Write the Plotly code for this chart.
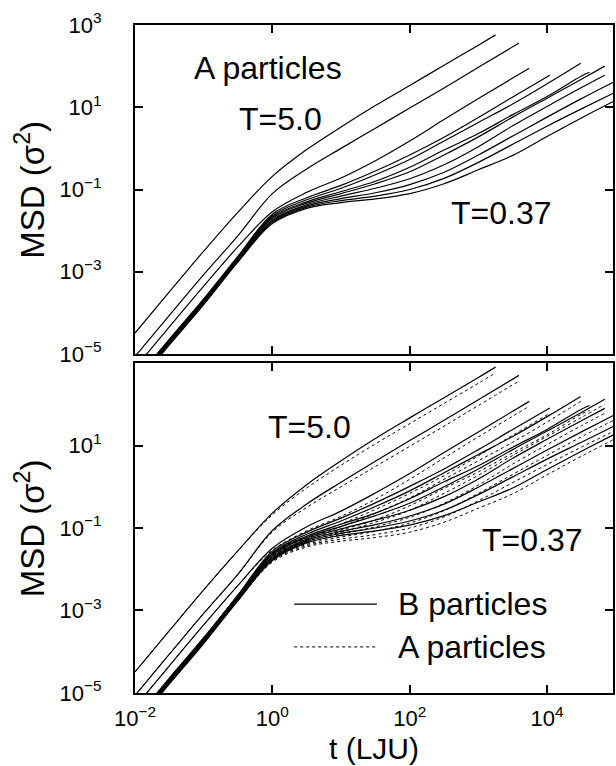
import numpy as np
import plotly.graph_objects as go

# log10(t) sampling grid shared by all curves; each curve uses the leading
# part of it and then its own final time.
LOG_T_GRID = [-2, -1.5, -1, -0.5, 0, 0.5, 1, 1.5, 2, 2.5, 3, 3.5, 4, 4.5, 5]

# Final log10(t) of each run, from the hottest (T=5.0) to the coldest (T=0.37)
LOG_T_END = [3.25, 3.59, 3.74, 4.04, 4.49, 4.62, 4.84, 4.84, 5.0, 5.0, 5.0]

# log10 MSD of the A particles
A1 = [-4.49, -3.49, -2.50, -1.55, -0.68, -0.03, 0.52, 1.04, 1.53, 2.02, 2.51, 2.76]
A2 = [-5.06, -4.06, -3.07, -2.12, -1.10, -0.50, 0.00, 0.49, 0.98, 1.47, 1.97, 2.56]
A3 = [-5.34, -4.34, -3.35, -2.39, -1.54, -1.07, -0.72, -0.30, 0.18, 0.70, 1.21, 1.71, 1.95]
A4 = [-5.64, -4.64, -3.66, -2.62, -1.60, -1.20, -0.90, -0.55, -0.16, 0.27, 0.75, 1.25, 1.78]
A5 = [-5.66, -4.66, -3.68, -2.64, -1.64, -1.25, -0.97, -0.64, -0.27, 0.18, 0.63, 1.08, 1.57, 2.07]
A6 = [-5.68, -4.68, -3.70, -2.66, -1.67, -1.30, -1.05, -0.80, -0.46, -0.04, 0.36, 0.82, 1.26, 1.76, 1.85]
A7 = [-5.70, -4.70, -3.72, -2.68, -1.70, -1.33, -1.10, -0.86, -0.57, -0.16, 0.28, 0.76, 1.22, 1.68, 2.00]
A8 = [-5.72, -4.72, -3.74, -2.70, -1.74, -1.37, -1.16, -0.97, -0.74, -0.40, 0.04, 0.55, 1.02, 1.48, 1.78]
A9 = [-5.74, -4.74, -3.76, -2.72, -1.77, -1.40, -1.22, -1.08, -0.88, -0.58, -0.16, 0.30, 0.76, 1.21, 1.64]
A10 = [-5.76, -4.76, -3.78, -2.74, -1.80, -1.43, -1.27, -1.16, -1.00, -0.73, -0.34, 0.10, 0.54, 0.96, 1.37]
A11 = [-5.78, -4.78, -3.80, -2.76, -1.83, -1.46, -1.32, -1.23, -1.10, -0.86, -0.52, -0.17, 0.29, 0.74, 1.17]

# log10 MSD of the B particles
B1 = [-4.49, -3.49, -2.50, -1.55, -0.64, 0.05, 0.63, 1.17, 1.67, 2.16, 2.65, 2.90]
B2 = [-5.06, -4.06, -3.07, -2.12, -1.06, -0.42, 0.11, 0.62, 1.12, 1.61, 2.11, 2.70]
B3 = [-5.34, -4.34, -3.35, -2.39, -1.49, -0.97, -0.59, -0.15, 0.32, 0.83, 1.33, 1.83, 2.07]
B4 = [-5.64, -4.64, -3.66, -2.62, -1.56, -1.10, -0.76, -0.39, 0.01, 0.43, 0.90, 1.39, 1.91]
B5 = [-5.66, -4.66, -3.68, -2.64, -1.60, -1.15, -0.83, -0.48, -0.10, 0.34, 0.78, 1.22, 1.70, 2.19]
B6 = [-5.68, -4.68, -3.70, -2.66, -1.63, -1.20, -0.91, -0.64, -0.29, 0.12, 0.51, 0.96, 1.39, 1.88, 1.97]
B7 = [-5.70, -4.70, -3.72, -2.68, -1.66, -1.23, -0.96, -0.70, -0.40, 0.00, 0.43, 0.90, 1.35, 1.80, 2.12]
B8 = [-5.72, -4.72, -3.74, -2.70, -1.70, -1.27, -1.02, -0.81, -0.57, -0.24, 0.19, 0.69, 1.15, 1.60, 1.90]
B9 = [-5.74, -4.74, -3.76, -2.72, -1.73, -1.30, -1.08, -0.92, -0.71, -0.42, -0.01, 0.44, 0.89, 1.33, 1.76]
B10 = [-5.76, -4.76, -3.78, -2.74, -1.76, -1.33, -1.13, -1.00, -0.83, -0.57, -0.19, 0.24, 0.67, 1.08, 1.49]
B11 = [-5.78, -4.78, -3.80, -2.76, -1.79, -1.36, -1.18, -1.07, -0.93, -0.70, -0.37, -0.03, 0.42, 0.86, 1.29]

A_CURVES = [A1, A2, A3, A4, A5, A6, A7, A8, A9, A10, A11]
B_CURVES = [B1, B2, B3, B4, B5, B6, B7, B8, B9, B10, B11]

X_TICKS = [1e-2, 1e0, 1e2, 1e4]
X_TICK_TEXT = ["10<sup>−2</sup>", "10<sup>0</sup>", "10<sup>2</sup>", "10<sup>4</sup>"]
Y_TICKS_TOP = [1e-5, 1e-3, 1e-1, 1e1, 1e3]
Y_TICK_TEXT_TOP = ["10<sup>−5</sup>", "10<sup>−3</sup>", "10<sup>−1</sup>", "10<sup>1</sup>", "10<sup>3</sup>"]
Y_TICKS_BOT = [1e-5, 1e-3, 1e-1, 1e1]
Y_TICK_TEXT_BOT = ["10<sup>−5</sup>", "10<sup>−3</sup>", "10<sup>−1</sup>", "10<sup>1</sup>"]

FONT = "Liberation Sans, Arial, Helvetica, sans-serif"


def curve_xy(vals, t_end):
    lt = LOG_T_GRID[:len(vals) - 1] + [t_end]
    return 10.0 ** np.array(lt), 10.0 ** np.array(vals)


fig = go.Figure()

line_solid = dict(color="black", width=1.2, shape="spline", smoothing=1.0)
line_dot = dict(color="black", width=1.0, dash="dot", shape="spline", smoothing=1.0)

# top panel: A particles
for vals, te in zip(A_CURVES, LOG_T_END):
    t, m = curve_xy(vals, te)
    fig.add_trace(go.Scatter(x=t, y=m, mode="lines", line=line_solid,
                             xaxis="x", yaxis="y", showlegend=False, hoverinfo="skip"))

# bottom panel: A particles dotted, B particles solid
for vals, te in zip(A_CURVES, LOG_T_END):
    t, m = curve_xy(vals, te)
    fig.add_trace(go.Scatter(x=t, y=m, mode="lines", line=line_dot,
                             xaxis="x2", yaxis="y2", showlegend=False, hoverinfo="skip"))
for vals, te in zip(B_CURVES, LOG_T_END):
    t, m = curve_xy(vals, te)
    fig.add_trace(go.Scatter(x=t, y=m, mode="lines", line=line_solid,
                             xaxis="x2", yaxis="y2", showlegend=False, hoverinfo="skip"))

X_RANGE = [-2, 4.96]
Y_RANGE = [-5, 3]
TICK_FONT = dict(family=FONT, size=22, color="black")

common_axis = dict(type="log", showline=True, linewidth=2, linecolor="black",
                   mirror="ticks", ticks="inside", ticklen=8, tickwidth=1.5,
                   tickcolor="black", showgrid=False, zeroline=False,
                   tickfont=TICK_FONT)

fig.update_layout(
    width=616, height=766,
    margin=dict(l=135, r=1, t=25, b=73),
    paper_bgcolor="white", plot_bgcolor="white",
    font=dict(family=FONT, color="black"),
    xaxis=dict(common_axis, range=X_RANGE, domain=[0, 1], anchor="y",
               tickvals=X_TICKS, showticklabels=False),
    yaxis=dict(common_axis, range=Y_RANGE, domain=[0.5075, 1], anchor="x",
               tickvals=Y_TICKS_TOP, ticktext=Y_TICK_TEXT_TOP, ticklabelstandoff=27),
    xaxis2=dict(common_axis, range=X_RANGE, domain=[0, 1], anchor="y2",
                tickvals=X_TICKS, ticktext=X_TICK_TEXT, ticklabelstandoff=5),
    yaxis2=dict(common_axis, range=Y_RANGE, domain=[0, 0.494], anchor="x2",
                tickvals=Y_TICKS_BOT, ticktext=Y_TICK_TEXT_BOT, ticklabelstandoff=27),
)

BIG = dict(family=FONT, size=32, color="black")
notes = [
    ("A particles", 0.279, 0.935, "center"),
    ("T=5.0", 0.304, 0.859, "center"),
    ("T=0.37", 0.767, 0.718, "center"),
    ("T=5.0", 0.365, 0.398, "center"),
    ("T=0.37", 0.831, 0.229, "center"),
    ("B particles", 0.546, 0.133, "left"),
    ("A particles", 0.546, 0.069, "left"),
]
for text, x, y, xa in notes:
    fig.add_annotation(text=text, x=x, y=y, xref="paper", yref="paper",
                       xanchor=xa, yanchor="middle", showarrow=False, font=BIG)

# axis titles
TITLE_FONT = dict(family=FONT, size=33, color="black")
fig.add_annotation(text="MSD (σ<sup>2</sup>)", x=-0.219, y=0.754, xref="paper", yref="paper",
                   textangle=-90, xanchor="center", yanchor="middle", showarrow=False,
                   font=TITLE_FONT)
fig.add_annotation(text="MSD (σ<sup>2</sup>)", x=-0.219, y=0.247, xref="paper", yref="paper",
                   textangle=-90, xanchor="center", yanchor="middle", showarrow=False,
                   font=TITLE_FONT)
fig.add_annotation(text="t (LJU)", x=0.5, y=-0.109, xref="paper", yref="paper",
                   xanchor="center", yanchor="bottom", showarrow=False,
                   font=dict(family=FONT, size=30, color="black"), borderpad=0)

# legend keys
fig.add_shape(type="line", xref="paper", yref="paper", x0=0.333, x1=0.506, y0=0.133, y1=0.133,
              line=dict(color="black", width=1.2))
fig.add_shape(type="line", xref="paper", yref="paper", x0=0.333, x1=0.506, y0=0.069, y1=0.069,
              line=dict(color="black", width=1.0, dash="dot"))

fig.write_html("out.html")
